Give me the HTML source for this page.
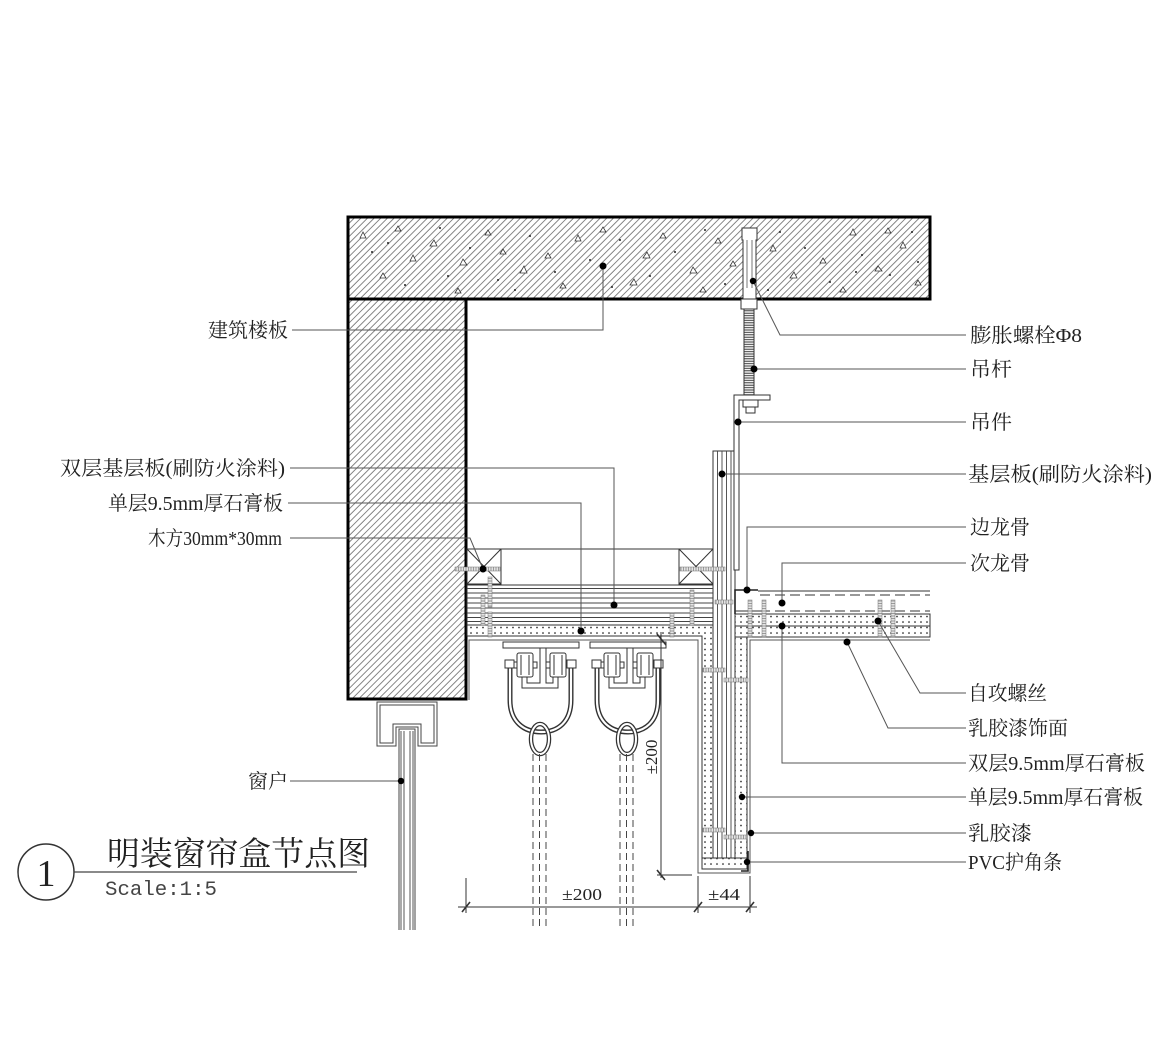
<!DOCTYPE html>
<html><head><meta charset="utf-8"><style>
html,body{margin:0;padding:0;background:#fff;}
svg{display:block;}
text{font-family:"Liberation Serif","Noto Serif CJK SC",serif;fill:#222;}
</style></head><body>
<svg width="1170" height="1041" viewBox="0 0 1170 1041" xmlns="http://www.w3.org/2000/svg">
<defs>
<pattern id="h" patternUnits="userSpaceOnUse" width="4.7" height="10" patternTransform="rotate(45)"><rect width="4.7" height="10" fill="#fff"/><line x1="0.5" y1="0" x2="0.5" y2="10" stroke="#555" stroke-width="0.7"/></pattern>
<pattern id="d" patternUnits="userSpaceOnUse" x="0" y="624.8" width="6" height="5.5"><rect width="6" height="5.5" fill="#fff"/><circle cx="3" cy="2.7" r="0.85" fill="#222"/></pattern>
<pattern id="thr" patternUnits="userSpaceOnUse" width="10" height="2.4"><rect width="10" height="2.4" fill="#fff"/><line x1="0" y1="1.2" x2="10" y2="1.2" stroke="#333" stroke-width="1"/></pattern>
<pattern id="sv" patternUnits="userSpaceOnUse" width="10" height="2.5"><rect width="10" height="2.5" fill="#e4e4e4"/><line x1="0" y1="1" x2="10" y2="1" stroke="#888" stroke-width="0.8"/></pattern>
<pattern id="sh" patternUnits="userSpaceOnUse" width="2.5" height="10"><rect width="2.5" height="10" fill="#e4e4e4"/><line x1="1" y1="0" x2="1" y2="10" stroke="#888" stroke-width="0.8"/></pattern>
</defs>

<rect x="348" y="217" width="582" height="82" fill="url(#h)" stroke="#000" stroke-width="3"/>
<rect x="348" y="299" width="118" height="400" fill="url(#h)" stroke="#000" stroke-width="3"/>

<g fill="#fff" stroke="#333" stroke-width="0.8">
<path d="M360,238 l3,-6 l3,6 z"/><path d="M395,231 l3,-5 l3,5 z"/><path d="M430,246 l4,-6 l3,6 z"/>
<path d="M460,265 l3,-6 l4,6 z"/><path d="M485,235 l3,-5 l3,5 z"/><path d="M520,273 l4,-7 l3,7 z"/>
<path d="M545,258 l3,-5 l3,5 z"/><path d="M575,241 l3,-6 l3,6 z"/><path d="M630,285 l4,-6 l3,6 z"/>
<path d="M660,238 l3,-5 l3,5 z"/><path d="M690,273 l3,-6 l4,6 z"/><path d="M715,243 l3,-5 l3,5 z"/>
<path d="M770,251 l3,-6 l3,6 z"/><path d="M790,278 l4,-6 l3,6 z"/><path d="M820,263 l3,-5 l3,5 z"/>
<path d="M850,235 l3,-6 l3,6 z"/><path d="M875,271 l3,-5 l4,5 z"/><path d="M900,248 l3,-6 l3,6 z"/>
<path d="M915,285 l3,-5 l3,5 z"/><path d="M380,278 l3,-5 l3,5 z"/><path d="M455,293 l3,-5 l3,5 z"/>
<path d="M560,288 l3,-5 l3,5 z"/><path d="M700,292 l3,-5 l3,5 z"/><path d="M840,292 l3,-5 l3,5 z"/>
<path d="M410,261 l3,-6 l3,6 z"/><path d="M885,233 l3,-5 l3,5 z"/><path d="M600,232 l3,-5 l3,5 z"/>
<path d="M500,254 l3,-5 l3,5 z"/><path d="M643,258 l4,-6 l3,6 z"/><path d="M730,266 l3,-5 l3,5 z"/>
</g>
<g fill="#222">
<circle cx="372" cy="252" r="1"/><circle cx="405" cy="285" r="1"/><circle cx="440" cy="228" r="1"/><circle cx="470" cy="248" r="1"/>
<circle cx="498" cy="280" r="1"/><circle cx="530" cy="236" r="1"/><circle cx="555" cy="272" r="1"/><circle cx="590" cy="260" r="1"/>
<circle cx="620" cy="240" r="1"/><circle cx="650" cy="276" r="1"/><circle cx="675" cy="252" r="1"/><circle cx="705" cy="230" r="1"/>
<circle cx="725" cy="284" r="1"/><circle cx="780" cy="232" r="1"/><circle cx="805" cy="248" r="1"/><circle cx="830" cy="282" r="1"/>
<circle cx="862" cy="255" r="1"/><circle cx="890" cy="275" r="1"/><circle cx="912" cy="232" r="1"/><circle cx="918" cy="262" r="1"/>
<circle cx="388" cy="243" r="1"/><circle cx="448" cy="276" r="1"/><circle cx="515" cy="290" r="1"/><circle cx="612" cy="287" r="1"/>
<circle cx="768" cy="290" r="1"/><circle cx="856" cy="272" r="1"/>
</g>

<path d="M742,228 H757 V240 H756 V299 H743 V240 H742 Z" fill="#fff" stroke="#333"/>
<path d="M747,240 V288 M752,240 V288" stroke="#555" stroke-width="0.8"/>
<rect x="741" y="299" width="16" height="10" fill="#fff" stroke="#333"/>
<rect x="744" y="309" width="10" height="86" fill="url(#thr)" stroke="#333"/>

<rect x="713" y="451" width="22" height="407" fill="#fff" stroke="#333"/>
<path d="M717.5,451 V858 M722,451 V858 M726.5,451 V858 M731,451 V858" stroke="#444" stroke-width="0.9"/>

<path d="M734,570 V395 H770 V400 H739 V570 Z" fill="#fff" stroke="#333"/>
<rect x="743" y="400" width="15" height="7" fill="#fff" stroke="#333"/>
<rect x="746" y="407" width="9" height="6" fill="#fff" stroke="#333"/>

<g fill="#fff" stroke="#333">
<rect x="467" y="549" width="34" height="35"/><path d="M467,549 L501,584 M501,549 L467,584"/>
<rect x="679" y="549" width="34" height="35"/><path d="M679,549 L713,584 M713,549 L679,584"/>
</g>
<path d="M501,549 H679" stroke="#333"/>

<rect x="467" y="585" width="246" height="40" fill="#fff" stroke="#333"/>
<path d="M467,588.5 H713 M467,593 H713 M467,598 H713 M467,603 H713 M467,608 H713 M467,613 H713 M467,617.5 H713 M467,621.5 H713" stroke="#444" stroke-width="0.9"/>

<path d="M467,625 H713 V858 H702 V636 H467 Z" fill="url(#d)" stroke="#333"/>
<rect x="735" y="637" width="12" height="221" fill="url(#d)" stroke="#333"/>
<rect x="702" y="858" width="45" height="11" fill="url(#d)" stroke="#333"/>
<path d="M469,700 V640 H698 V873 H750 V640 H930" fill="none" stroke="#555"/>
<path d="M741,871 H748 V851" fill="none" stroke="#222" stroke-width="1.6"/>

<rect x="735" y="614" width="195" height="12" fill="url(#d)" stroke="#333"/>
<rect x="735" y="626" width="195" height="11" fill="url(#d)" stroke="#333"/>
<path d="M758,590 H735 V614" fill="none" stroke="#222" stroke-width="1.6"/>
<path d="M758,591 H930" stroke="#333"/>
<path d="M760,595 H930" stroke="#333" stroke-dasharray="10,5"/>
<path d="M735,611 H760" stroke="#333"/>
<path d="M760,611 H930" stroke="#333" stroke-dasharray="10,5"/>

<g stroke="#777" stroke-width="0.5" fill="url(#sv)">
<rect x="488" y="577" width="4" height="30"/><rect x="481" y="595" width="4" height="30"/><rect x="488" y="612" width="4" height="25"/>
<rect x="670" y="613" width="4" height="24"/><rect x="690" y="590" width="4" height="35"/>
<rect x="748" y="600" width="4" height="37"/><rect x="762" y="600" width="4" height="37"/>
<rect x="878" y="600" width="4" height="37"/><rect x="891" y="600" width="4" height="37"/>
</g>
<g stroke="#777" stroke-width="0.5" fill="url(#sh)">
<rect x="455" y="567" width="45" height="4"/><rect x="680" y="567" width="45" height="4"/>
<rect x="715" y="600" width="18" height="4"/><rect x="703" y="668" width="22" height="4"/>
<rect x="724" y="678" width="24" height="4"/><rect x="703" y="828" width="22" height="4"/>
<rect x="724" y="835" width="23" height="4"/>
</g>

<g id="trk" fill="none" stroke="#333" stroke-width="1">
<rect x="503" y="642" width="76" height="6" fill="#fff"/>
<path d="M522,676 V688 H558 V676 M527,676 V683 H540 V648 M546,648 V683 H553 V676"/>
<rect x="513" y="662" width="24" height="6" fill="#fff"/>
<rect x="517" y="653" width="16" height="24" rx="2" fill="#fff"/>
<path d="M521,655 V675 M529,655 V675"/>
<rect x="546" y="662" width="24" height="6" fill="#fff"/>
<rect x="550" y="653" width="16" height="24" rx="2" fill="#fff"/>
<path d="M554,655 V675 M562,655 V675"/>
<path d="M510,664 V700 C510,722 524,732 541,732 C558,732 571,722 571,700 V664" stroke="#333" stroke-width="5"/>
<path d="M510,664 V700 C510,722 524,732 541,732 C558,732 571,722 571,700 V664" stroke="#fff" stroke-width="2.2"/>
<rect x="505" y="660" width="9" height="8" fill="#fff"/>
<rect x="567" y="660" width="9" height="8" fill="#fff"/>
<ellipse cx="540" cy="739" rx="9" ry="15" stroke="#333" stroke-width="4.5"/>
<ellipse cx="540" cy="739" rx="9" ry="15" stroke="#fff" stroke-width="2"/>
<path d="M533,754 V930 M539.5,754 V930 M546,754 V930" stroke="#444" stroke-dasharray="7,4"/>
</g>
<use href="#trk" x="87" y="0"/>

<path d="M377,702 H437 V746 H418 V727 H396 V746 H377 Z" fill="#fff" stroke="#444"/>
<path d="M380,705 H434 V743 H421 V724 H393 V743 H380 Z" fill="none" stroke="#444"/>
<path d="M399,930 V729 H415 V930" fill="#fff" stroke="#444"/>
<path d="M401,731 V930 M404,731 V930 M410,731 V930 M413,731 V930" stroke="#444" stroke-width="0.9"/>

<g stroke="#333" stroke-width="1" fill="none">
<path d="M661,632 V878"/>
<path d="M657,634 L666,645" stroke-width="1.6"/>
<path d="M657,870 L665,880" stroke-width="1.6"/>
<path d="M657,875 H692"/>
<path d="M458,907 H757"/>
<path d="M466,878 V913 M698,876 V913 M750,876 V913"/>
<path d="M462,912 L470,902 M694,912 L702,902 M746,912 L754,902" stroke-width="1.6"/>
</g>
<text x="562" y="900" font-size="17" textLength="40" lengthAdjust="spacingAndGlyphs">±200</text>
<text x="708" y="900" font-size="17" textLength="32" lengthAdjust="spacingAndGlyphs">±44</text>
<text transform="translate(657,757) rotate(-90)" text-anchor="middle" font-size="17">±200</text>

<g stroke="#555" stroke-width="1" fill="none">
<path d="M292,330 H603 V266"/>
<path d="M290,468 H614 V605"/>
<path d="M288,503 H581 V631"/>
<path d="M290,538 H470 L483,569"/>
<path d="M290,781 H401"/>
<path d="M753,281 L780,335 H966"/>
<path d="M754,369 H966"/>
<path d="M738,422 H966"/>
<path d="M722,474 H966"/>
<path d="M747,590 V527 H966"/>
<path d="M782,603 V563 H966"/>
<path d="M782,626 V763 H966"/>
<path d="M878,621 L920,693 H966"/>
<path d="M847,642 L888,728 H966"/>
<path d="M742,797 H966"/>
<path d="M751,833 H966"/>
<path d="M747,862 H966"/>
</g>
<g fill="#000">
<circle cx="603" cy="266" r="3.5"/><circle cx="614" cy="605" r="3.5"/><circle cx="581" cy="631" r="3.5"/>
<circle cx="483" cy="569" r="3.5"/><circle cx="401" cy="781" r="3.2"/>
<circle cx="753" cy="281" r="3.2"/><circle cx="754" cy="369" r="3.5"/><circle cx="738" cy="422" r="3.5"/>
<circle cx="722" cy="474" r="3.5"/><circle cx="747" cy="590" r="3.5"/><circle cx="782" cy="603" r="3.5"/>
<circle cx="782" cy="626" r="3.5"/><circle cx="878" cy="621" r="3.5"/><circle cx="847" cy="642" r="3.5"/>
<circle cx="742" cy="797" r="3.2"/><circle cx="751" cy="833" r="3.2"/><circle cx="747" cy="862" r="3.2"/>
</g>

<g font-size="20">
<text x="208" y="337" textLength="80" lengthAdjust="spacingAndGlyphs">建筑楼板</text>
<text x="60" y="475" textLength="225" lengthAdjust="spacingAndGlyphs">双层基层板(刷防火涂料)</text>
<text x="108" y="510" textLength="175" lengthAdjust="spacingAndGlyphs">单层9.5mm厚石膏板</text>
<text x="148" y="545" textLength="134" lengthAdjust="spacingAndGlyphs">木方30mm*30mm</text>
<text x="248" y="788" textLength="40" lengthAdjust="spacingAndGlyphs">窗户</text>
</g>

<g font-size="20">
<text x="970" y="342" textLength="112" lengthAdjust="spacingAndGlyphs">膨胀螺栓Φ8</text>
<text x="970" y="376" textLength="42" lengthAdjust="spacingAndGlyphs">吊杆</text>
<text x="970" y="429" textLength="42" lengthAdjust="spacingAndGlyphs">吊件</text>
<text x="968" y="481" textLength="184" lengthAdjust="spacingAndGlyphs">基层板(刷防火涂料)</text>
<text x="970" y="534" textLength="60" lengthAdjust="spacingAndGlyphs">边龙骨</text>
<text x="970" y="570" textLength="60" lengthAdjust="spacingAndGlyphs">次龙骨</text>
<text x="968" y="700" textLength="79" lengthAdjust="spacingAndGlyphs">自攻螺丝</text>
<text x="968" y="735" textLength="100" lengthAdjust="spacingAndGlyphs">乳胶漆饰面</text>
<text x="968" y="770" textLength="177" lengthAdjust="spacingAndGlyphs">双层9.5mm厚石膏板</text>
<text x="968" y="804" textLength="175" lengthAdjust="spacingAndGlyphs">单层9.5mm厚石膏板</text>
<text x="968" y="840" textLength="64" lengthAdjust="spacingAndGlyphs">乳胶漆</text>
<text x="968" y="869" textLength="94" lengthAdjust="spacingAndGlyphs">PVC护角条</text>
</g>

<circle cx="46" cy="872" r="28" fill="none" stroke="#333" stroke-width="1.5"/>
<text x="46" y="886" text-anchor="middle" font-size="38">1</text>
<path d="M74,872 H357" stroke="#444" stroke-width="1.2"/>
<text x="107" y="865" font-size="33" textLength="263" lengthAdjust="spacingAndGlyphs">明装窗帘盒节点图</text>
<text x="105" y="895" font-size="20" textLength="112" lengthAdjust="spacingAndGlyphs" style="font-family:'Liberation Mono',monospace;fill:#444">Scale:1:5</text>
</svg>
</body></html>
